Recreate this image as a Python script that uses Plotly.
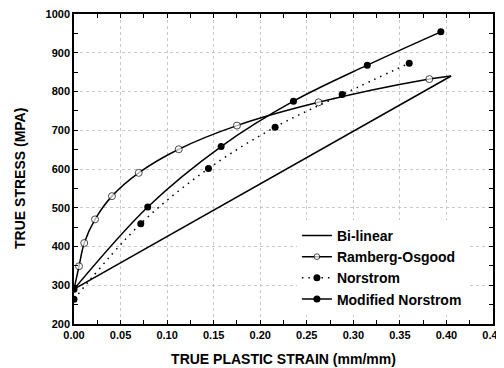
import plotly.graph_objects as go

# Data
bl_x = [0.0, 0.405]
bl_y = [290, 840]

ro_x = [0.0, 0.0054, 0.011, 0.0226, 0.0408, 0.0695, 0.1125, 0.175, 0.2626, 0.3816, 0.405]
ro_y = [290, 349, 409, 470, 530, 590, 651, 712, 772, 832, 840]
ro_marker = [0, 7, 7, 7, 7, 7, 7, 7, 7, 7, 0]

no_x = [0.0, 0.0717, 0.1444, 0.216, 0.288, 0.36]
no_y = [264, 459, 601, 708, 792, 873]

mn_x = [0.0, 0.0792, 0.158, 0.2357, 0.315, 0.394]
mn_y = [290, 502, 658, 775, 868, 954]

font = "Liberation Sans, Arial, sans-serif"

fig = go.Figure()
fig.add_trace(go.Scatter(x=bl_x, y=bl_y, mode="lines", name="Bi-linear",
                         line=dict(color="black", width=1.5)))
fig.add_trace(go.Scatter(x=ro_x, y=ro_y, mode="lines+markers", name="Ramberg-Osgood",
                         line=dict(color="black", width=1.5, shape="spline"),
                         marker=dict(symbol="circle", size=ro_marker, color="white",
                                     line=dict(color="black", width=1))))
fig.add_trace(go.Scatter(x=no_x, y=no_y, mode="lines+markers", name="Norstrom",
                         line=dict(color="black", width=1.5, dash="1.5px,5px", shape="spline"),
                         marker=dict(symbol="circle", size=7, color="black")))
fig.add_trace(go.Scatter(x=mn_x, y=mn_y, mode="lines+markers", name="Modified Norstrom",
                         line=dict(color="black", width=1.5, shape="spline"),
                         marker=dict(symbol="circle", size=7, color="black")))

axis_common = dict(
    showline=True, linecolor="black", linewidth=1.5, mirror="allticks",
    ticks="inside", ticklen=4, tickcolor="black", tickwidth=1,
    showgrid=True, gridcolor="#c8c8c8", griddash="dot", gridwidth=1,
    zeroline=False, automargin=False, ticklabeloverflow="allow",
    tickfont=dict(family=font, size=11, color="black", weight="bold"),
)

fig.update_xaxes(range=[0, 0.45], dtick=0.05, tickformat=".2f",
                 minor=dict(ticks="inside", dtick=0.025, ticklen=4, tickcolor="black", showgrid=False),
                 title=dict(text="TRUE PLASTIC STRAIN (mm/mm)", standoff=14,
                            font=dict(family=font, size=14, color="black", weight="bold")),
                 **axis_common)
fig.update_yaxes(range=[200, 1000], dtick=100,
                 minor=dict(ticks="inside", dtick=50, ticklen=4, tickcolor="black", showgrid=False),
                 **axis_common)

fig.add_annotation(text="TRUE STRESS (MPA)", xref="paper", yref="paper",
                   x=-0.129, y=0.471, xanchor="center", yanchor="middle",
                   textangle=-90, showarrow=False,
                   font=dict(family=font, size=14, color="black", weight="bold"))

# The page body adds an 8px offset, so the figure is sized to the visible area
fig.update_layout(
    width=496, height=360,
    margin=dict(l=66, r=11, t=6, b=44),
    paper_bgcolor="white", plot_bgcolor="white",
    showlegend=True,
    legend=dict(x=0.532, y=0.336, xanchor="left", yanchor="top",
                bgcolor="white", borderwidth=0, tracegroupgap=0,
                font=dict(family=font, size=14, color="black", weight="bold")),
)

fig.write_html("out.html")
